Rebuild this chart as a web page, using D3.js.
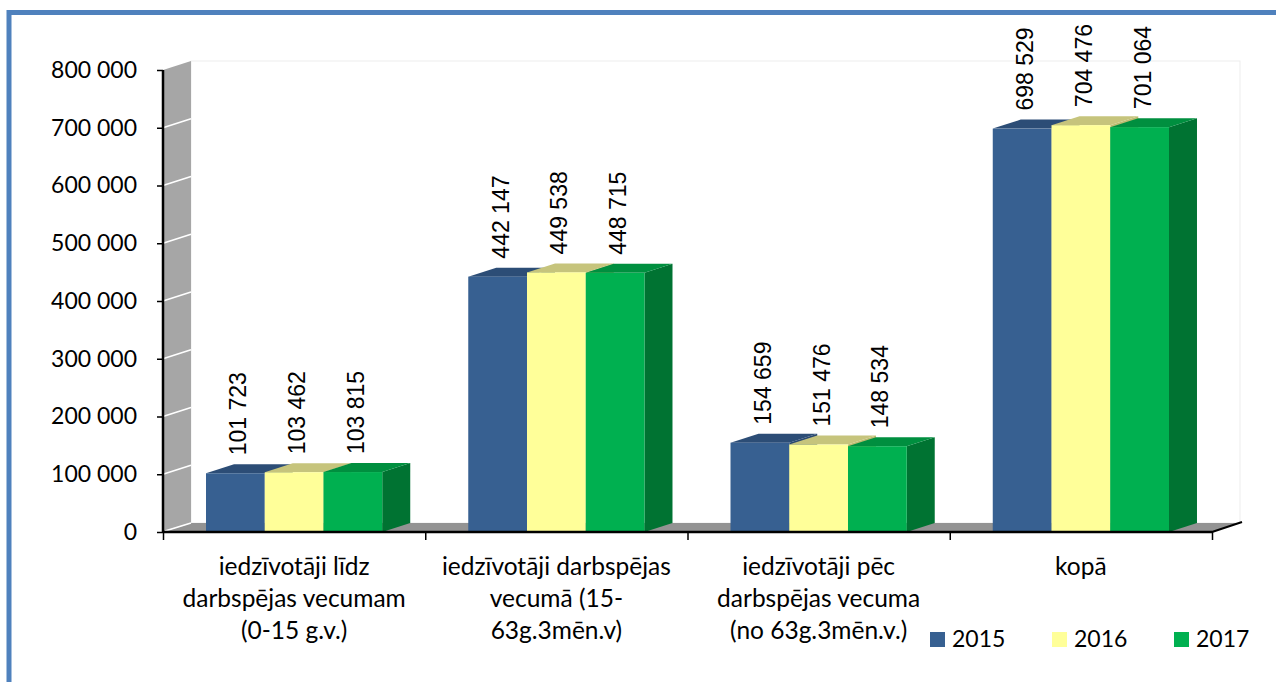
<!DOCTYPE html>
<html>
<head>
<meta charset="utf-8">
<script src="https://cdn.jsdelivr.net/npm/d3@7"></script>
<style>
  body { margin: 0; background: #fff; }
  svg { display: block; }
</style>
</head>
<body>
<div id="chart"></div>
<script>
// data
var categories = [
  ["iedzīvotāji līdz", "darbspējas vecumam", "(0-15 g.v.)"],
  ["iedzīvotāji darbspējas", "vecumā (15-", "63g.3mēn.v)"],
  ["iedzīvotāji pēc", "darbspējas vecuma", "(no 63g.3mēn.v.)"],
  ["kopā"]
];
var years = ["2015", "2016", "2017"];
var values2015 = [101723, 442147, 154659, 698529];
var values2016 = [103462, 449538, 151476, 704476];
var values2017 = [103815, 448715, 148534, 701064];
var yTicks = [0, 100000, 200000, 300000, 400000, 500000, 600000, 700000, 800000];

var series = [values2015, values2016, values2017];
var front = ["#376091", "#FFFF99", "#00B050"],
    top_ = ["#2C4D76", "#C6C47C", "#008F3F"],
    side = ["#2A4870", "#BDBB70", "#007332"];

var W = 1276, H = 682;
var x0 = 163, x1 = 1212, yBase = 532, yTop = 70;
var dx = 28, dy = -9;   // depth of the 3d box

var svg = d3.select("#chart").append("svg")
    .attr("width", W)
    .attr("height", H);

// outer blue frame
svg.append("rect")
    .attr("x", 9).attr("y", 12.5)
    .attr("width", 1400).attr("height", 800)
    .attr("fill", "none")
    .attr("stroke", "#4F81BD")
    .attr("stroke-width", 5);

var y = d3.scaleLinear().domain([0, 800000]).range([yBase, yTop]);
var xCat = d3.scaleBand().domain(d3.range(categories.length)).range([x0, x1]).paddingInner(0).paddingOuter(0);
var groupW = xCat.bandwidth() * 0.672;
var xYear = d3.scaleBand().domain(d3.range(years.length)).range([0, groupW]);

// back wall
svg.append("rect")
    .attr("x", x0 + dx).attr("y", yTop + dy)
    .attr("width", x1 - x0).attr("height", yBase - yTop)
    .attr("fill", "#fff")
    .attr("stroke", "#EDEDED");

// left side wall
svg.append("polygon")
    .attr("points", [[x0, yTop], [x0 + dx, yTop + dy], [x0 + dx, yBase + dy], [x0, yBase]].join(" "))
    .attr("fill", "#A6A6A6");

// gridlines on side wall
svg.selectAll(".wgrid")
    .data(yTicks.slice(1, -1))
    .enter().append("line")
    .attr("x1", x0).attr("x2", x0 + dx)
    .attr("y1", function(d) { return y(d); })
    .attr("y2", function(d) { return y(d) + dy; })
    .attr("stroke", "#fff")
    .attr("stroke-width", 1.5);

// floor
svg.append("polygon")
    .attr("points", [[x0, yBase], [x0 + dx, yBase + dy], [x1 + dx, yBase + dy], [x1, yBase]].join(" "))
    .attr("fill", "#939393");
svg.append("line")
    .attr("x1", x0 + 2).attr("y1", yBase - 1)
    .attr("x2", x0 + dx).attr("y2", yBase + dy)
    .attr("stroke", "#fff").attr("stroke-width", 1.5);

// bars
var g_bars = svg.append("g");
categories.forEach(function(c, i) {
  var gx = xCat(i) + (xCat.bandwidth() - groupW) / 2;
  series.forEach(function(vals, j) {
    var bx = gx + xYear(j), bw = xYear.bandwidth(), by = y(vals[i]);
    // side
    g_bars.append("polygon")
      .attr("points", [[bx + bw, by], [bx + bw + dx, by + dy], [bx + bw + dx, yBase + dy], [bx + bw, yBase]].join(" "))
      .attr("fill", side[j]);
    // top
    g_bars.append("polygon")
      .attr("points", [[bx, by], [bx + dx, by + dy], [bx + bw + dx, by + dy], [bx + bw, by]].join(" "))
      .attr("fill", top_[j]);
    // front
    g_bars.append("rect")
      .attr("x", bx).attr("y", by)
      .attr("width", bw).attr("height", yBase - by)
      .attr("fill", front[j]);
    // value label
    g_bars.append("text")
      .attr("transform", "translate(" + (bx + bw / 2 + 11) + "," + (by + dy - 9) + ") rotate(-90)")
      .attr("font-family", "Liberation Sans, Arial, sans-serif")
      .attr("font-size", 23)
      .attr("fill", "#000")
      .text(d3.format(",")(vals[i]).replace(/,/g, " "));
  });
});

// y axis
var yAxis = svg.append("g")
    .attr("transform", "translate(" + x0 + ",0)")
    .call(d3.axisLeft(y).tickValues(yTicks).tickSize(6).tickPadding(20)
      .tickFormat(function(d) { return d3.format(",")(d).replace(/,/g, " "); }));
yAxis.select(".domain").attr("stroke", "#000").attr("stroke-width", 2.5).attr("d", "M0," + yTop + "V" + yBase);
yAxis.selectAll(".tick line").attr("stroke", "#000").attr("stroke-width", 1.5);
yAxis.selectAll("text")
    .attr("font-family", "Lato, sans-serif")
    .attr("font-size", 23)
    .attr("fill", "#000");

// x axis (ticks at category boundaries)
var xLin = d3.scaleLinear().domain([0, categories.length]).range([x0, x1]);
var xAxis = svg.append("g")
    .attr("transform", "translate(0," + yBase + ")")
    .call(d3.axisBottom(xLin).ticks(categories.length).tickSize(8).tickFormat(""));
xAxis.select(".domain").attr("stroke", "#000").attr("stroke-width", 2.5).attr("d", "M" + x0 + ",0H" + x1);
xAxis.selectAll(".tick line").attr("stroke", "#000").attr("stroke-width", 1.5);
svg.append("line")
    .attr("x1", x1).attr("y1", yBase)
    .attr("x2", x1 + dx + 2).attr("y2", yBase + dy - 1)
    .attr("stroke", "#000").attr("stroke-width", 2);

// category labels
categories.forEach(function(lines, i) {
  var t = svg.append("text")
    .attr("text-anchor", "middle")
    .attr("font-family", "Lato, sans-serif")
    .attr("font-size", 24.5)
    .attr("fill", "#000");
  lines.forEach(function(l, k) {
    t.append("tspan")
      .attr("x", xCat(i) + xCat.bandwidth() / 2)
      .attr("y", 575 + k * 32)
      .text(l);
  });
});

// legend
var legend = svg.selectAll(".legend")
    .data(years)
    .enter().append("g")
    .attr("transform", function(d, i) { return "translate(" + (930 + i * 122) + ",632)"; });
legend.append("rect")
    .attr("width", 15).attr("height", 15)
    .attr("fill", function(d, i) { return front[i]; });
legend.append("text")
    .attr("x", 22).attr("y", 15)
    .attr("font-family", "Lato, sans-serif")
    .attr("font-size", 23)
    .attr("fill", "#000")
    .text(function(d) { return d; });
</script>
</body>
</html>
